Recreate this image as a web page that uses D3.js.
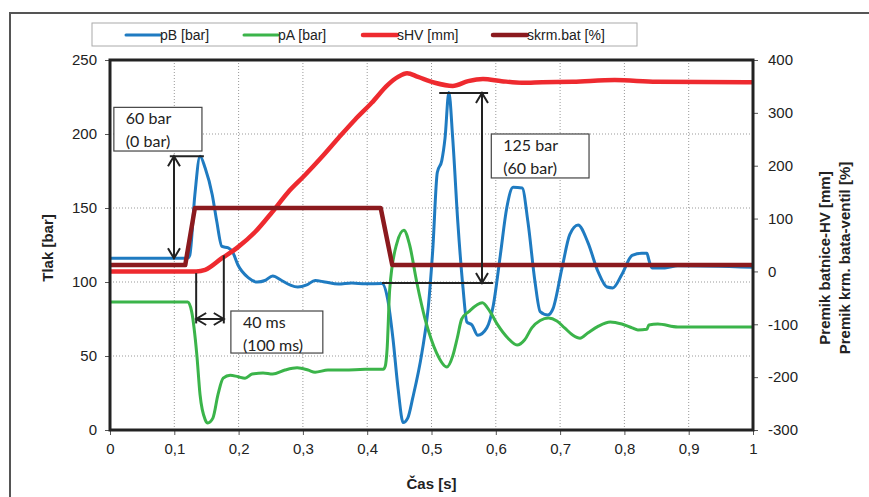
<!DOCTYPE html>
<html>
<head>
<meta charset="utf-8">
<script src="https://cdn.jsdelivr.net/npm/d3@7"></script>
<style>
body { margin: 0; background: #fff; }
text { font-family: "Liberation Sans", Arial, sans-serif; }
</style>
</head>
<body>
<script>
// values; time in s
var pbTime  = [0, 0.120, 0.124, 0.132, 0.140, 0.148, 0.159, 0.166, 0.174, 0.184, 0.191, 0.199, 0.215, 0.229, 0.241, 0.253, 0.267, 0.280, 0.292, 0.306, 0.319, 0.334, 0.355, 0.376, 0.397, 0.423, 0.432, 0.440, 0.448, 0.456, 0.463, 0.471, 0.485, 0.495, 0.502, 0.509, 0.516, 0.521, 0.527, 0.533, 0.541, 0.549, 0.555, 0.563, 0.572, 0.586, 0.596, 0.607, 0.617, 0.627, 0.641, 0.650, 0.661, 0.669, 0.681, 0.689, 0.703, 0.715, 0.728, 0.743, 0.759, 0.773, 0.782, 0.796, 0.812, 0.827, 0.835, 0.838, 0.843, 0.863, 0.883, 1];
var pbValue = [116, 116, 118, 159, 185, 177, 159, 141, 124, 123, 120, 111.5, 103, 100, 101, 104, 101, 98, 96.6, 98, 101, 100, 98.6, 99.3, 98.8, 99, 88, 62, 28, 5, 8, 22, 52, 83, 122, 174, 182, 197, 228, 197, 140, 96, 73, 71, 64, 69, 84, 118, 150, 164, 163.5, 140.5, 100, 80, 77.7, 82, 109.5, 132, 138.5, 127, 107, 96.6, 96, 105, 118, 119.5, 119.5, 115, 109.5, 109.5, 111, 110];

var paTime  = [0, 0.121, 0.127, 0.135, 0.140, 0.148, 0.152, 0.160, 0.168, 0.176, 0.187, 0.199, 0.210, 0.221, 0.238, 0.253, 0.272, 0.291, 0.308, 0.319, 0.339, 0.365, 0.397, 0.425, 0.428, 0.431, 0.435, 0.446, 0.457, 0.466, 0.477, 0.490, 0.499, 0.508, 0.524, 0.533, 0.540, 0.547, 0.558, 0.579, 0.591, 0.603, 0.619, 0.633, 0.645, 0.656, 0.669, 0.682, 0.695, 0.707, 0.720, 0.731, 0.743, 0.759, 0.778, 0.796, 0.812, 0.821, 0.835, 0.838, 0.852, 0.883, 1];
var paValue = [86.5, 86.5, 80, 51, 24, 7, 4.7, 8, 24, 35, 37, 36, 35, 37.8, 38.5, 37.8, 40.5, 42, 40.5, 39, 40.5, 40.5, 41, 41, 43, 55, 95, 126, 135, 125, 100, 75, 62, 52, 42.6, 50, 62, 75, 80, 86, 80, 71, 62, 57.4, 61, 69, 74, 75.6, 73.6, 69, 64, 62, 65.5, 70, 73, 71.6, 69, 67.6, 68, 71, 71.6, 69.6, 69.6];

var shvTime  = [0, 0.134, 0.148, 0.174, 0.199, 0.226, 0.252, 0.277, 0.303, 0.329, 0.355, 0.381, 0.407, 0.432, 0.448, 0.462, 0.479, 0.505, 0.533, 0.557, 0.580, 0.609, 0.641, 0.672, 0.720, 0.785, 0.850, 1];
var shvValue = [0, 0, 3, 25, 46, 75, 112, 150, 182, 216, 252, 287, 319, 353, 368, 375, 368, 357, 351, 360, 364, 360, 357, 358, 359, 362, 359, 358];

var skrmTime  = [0, 0.117, 0.132, 0.421, 0.439, 1];
var skrmValue = [12, 12, 120, 120, 12, 12];

var xTicks = [0, 0.1, 0.2, 0.3, 0.4, 0.5, 0.6, 0.7, 0.8, 0.9, 1];
var leftTicks = [0, 50, 100, 150, 200, 250];
var rightTicks = [-300, -200, -100, 0, 100, 200, 300, 400];

var seriesNames = ["pB [bar]", "pA [bar]", "sHV [mm]", "skrm.bat [%]"];
var seriesColors = ["#1f7bc1", "#3bb44a", "#ee2a2f", "#8b1a1e"];

var w = 869, h = 497;
var pl = 110, pr = 753, pt = 60, pb = 430;

var svg = d3.select("body").append("svg")
	.attr("width", w)
	.attr("height", h);

// outer frame
svg.append("rect")
	.attr("x", 10).attr("y", 13)
	.attr("width", w).attr("height", h)
	.attr("fill", "none")
	.attr("stroke", "#555")
	.attr("stroke-width", 2);

var x = d3.scaleLinear().domain([0, 1]).range([pl, pr]);
var yL = d3.scaleLinear().domain([0, 250]).range([pb, pt]);
var yR = d3.scaleLinear().domain([-300, 400]).range([pb, pt]);

var comma = d3.formatLocale({decimal: ",", thousands: ".", grouping: [3], currency: ["", ""]}).format("~g");

// grid
svg.append("g").selectAll("line")
	.data(xTicks.slice(1, -1))
	.enter().append("line")
	.attr("x1", function(d) { return x(d); })
	.attr("x2", function(d) { return x(d); })
	.attr("y1", pt).attr("y2", pb)
	.attr("stroke", "#999")
	.attr("stroke-dasharray", "1,2");
svg.append("g").selectAll("line")
	.data(leftTicks.slice(1, -1))
	.enter().append("line")
	.attr("x1", pl).attr("x2", pr)
	.attr("y1", function(d) { return yL(d); })
	.attr("y2", function(d) { return yL(d); })
	.attr("stroke", "#999")
	.attr("stroke-dasharray", "1,2");

// axes
svg.append("g")
	.attr("transform", "translate(0," + pb + ")")
	.call(d3.axisBottom(x).tickValues(xTicks).tickFormat(comma).tickSize(5).tickPadding(8));
svg.append("g")
	.attr("transform", "translate(" + pl + ",0)")
	.call(d3.axisLeft(yL).tickValues(leftTicks).tickSize(5).tickPadding(8));
svg.append("g")
	.attr("transform", "translate(" + pr + ",0)")
	.call(d3.axisRight(yR).tickValues(rightTicks).tickFormat(function(d) { return String(d); }).tickSize(5).tickPadding(10));
svg.selectAll(".domain").remove();
svg.selectAll(".tick line").attr("stroke", "#555");
svg.selectAll(".tick text")
	.style("font-size", "15px")
	.style("font-family", "Liberation Sans, Arial, sans-serif")
	.attr("fill", "#222");

// series
var lineL = d3.line()
	.x(function(d) { return x(d[0]); })
	.y(function(d) { return yL(d[1]); })
	.curve(d3.curveMonotoneX);
var lineR = d3.line()
	.x(function(d) { return x(d[0]); })
	.y(function(d) { return yR(d[1]); })
	.curve(d3.curveMonotoneX);
var lineStep = d3.line()
	.x(function(d) { return x(d[0]); })
	.y(function(d) { return yR(d[1]); });

svg.append("path")
	.attr("d", lineL(d3.zip(pbTime, pbValue)))
	.attr("fill", "none").attr("stroke", seriesColors[0])
	.attr("stroke-width", 3).attr("stroke-linejoin", "round");
svg.append("path")
	.attr("d", lineL(d3.zip(paTime, paValue)))
	.attr("fill", "none").attr("stroke", seriesColors[1])
	.attr("stroke-width", 3).attr("stroke-linejoin", "round");
svg.append("path")
	.attr("d", lineR(d3.zip(shvTime, shvValue)))
	.attr("fill", "none").attr("stroke", seriesColors[2])
	.attr("stroke-width", 4.5).attr("stroke-linejoin", "round");
svg.append("path")
	.attr("d", lineStep(d3.zip(skrmTime, skrmValue)))
	.attr("fill", "none").attr("stroke", seriesColors[3])
	.attr("stroke-width", 4.5).attr("stroke-linejoin", "round");

// plot frame
svg.append("rect")
	.attr("x", pl).attr("y", pt)
	.attr("width", pr - pl).attr("height", pb - pt)
	.attr("fill", "none")
	.attr("stroke", "#222")
	.attr("stroke-width", 3);

// annotations (left-axis units)
var annoLines = [
	[0.093, 185, 0.146, 185],
	[0.134, 106, 0.134, 72],
	[0.177, 118, 0.177, 72],
	[0.423, 99.3, 0.596, 99.3],
	[0.512, 227.7, 0.588, 227.7]
];
var annoArrows = [
	[0.0995, 116, 0.0995, 185],
	[0.134, 75, 0.177, 75],
	[0.5785, 99.3, 0.5785, 227.7]
];
var annoBoxes = [
	{t0: 0.006, t1: 0.143, v0: 218, v1: 188.5, text: ["60 bar", "(0 bar)"]},
	{t0: 0.188, t1: 0.331, v0: 80.4, v1: 52, text: ["40 ms", "(100 ms)"]},
	{t0: 0.593, t1: 0.745, v0: 200, v1: 170.3, text: ["125 bar", "(60 bar)"]}
];

var anno = svg.append("g").attr("stroke", "#222").attr("stroke-width", 2).attr("fill", "none");
anno.selectAll("line")
	.data(annoLines)
	.enter().append("line")
	.attr("x1", function(d) { return x(d[0]); })
	.attr("y1", function(d) { return yL(d[1]); })
	.attr("x2", function(d) { return x(d[2]); })
	.attr("y2", function(d) { return yL(d[3]); });

function chevron(px, py, ang) {
	// open arrow head pointing along ang, tip at px,py
	var len = 10, half = 6;
	var ca = Math.cos(ang), sa = Math.sin(ang);
	var bx = px - len * ca, by = py - len * sa;
	return "M" + (bx - half * sa) + "," + (by + half * ca) + "L" + px + "," + py + "L" + (bx + half * sa) + "," + (by - half * ca);
}
annoArrows.forEach(function(a) {
	var x1 = x(a[0]), y1 = yL(a[1]), x2 = x(a[2]), y2 = yL(a[3]);
	var ang = Math.atan2(y2 - y1, x2 - x1);
	anno.append("line").attr("x1", x1).attr("y1", y1).attr("x2", x2).attr("y2", y2);
	anno.append("path").attr("d", chevron(x2, y2, ang));
	anno.append("path").attr("d", chevron(x1, y1, ang + Math.PI));
});

annoBoxes.forEach(function(b) {
	var bx = x(b.t0), by = yL(b.v0);
	svg.append("rect")
		.attr("x", bx).attr("y", by)
		.attr("width", x(b.t1) - bx).attr("height", yL(b.v1) - by)
		.attr("fill", "#fff").attr("stroke", "#444").attr("stroke-width", 1.2);
	svg.append("g").selectAll("text")
		.data(b.text)
		.enter().append("text")
		.attr("x", bx + 12)
		.attr("y", function(d, i) { return by + 17 + i * 23; })
		.style("font-family", "Lato, 'Open Sans', sans-serif")
		.style("font-size", "16px")
		.attr("fill", "#222")
		.text(function(d) { return d; });
});

// legend
var legendX = [126, 244, 363, 493];
var legend = svg.append("g");
legend.append("rect")
	.attr("x", 92).attr("y", 23)
	.attr("width", 545).attr("height", 23)
	.attr("fill", "#fff").attr("stroke", "#aaa");
legend.selectAll("line")
	.data(seriesNames)
	.enter().append("line")
	.attr("x1", function(d, i) { return legendX[i]; })
	.attr("x2", function(d, i) { return legendX[i] + 34; })
	.attr("y1", 35).attr("y2", 35)
	.attr("stroke", function(d, i) { return seriesColors[i]; })
	.attr("stroke-width", function(d, i) { return i < 2 ? 3 : 4.5; })
	.attr("stroke-linecap", "round");
legend.selectAll("text")
	.data(seriesNames)
	.enter().append("text")
	.attr("x", function(d, i) { return legendX[i] + 34; })
	.attr("y", 40)
	.style("font-size", "14px")
	.attr("fill", "#222")
	.text(function(d) { return d; });

// axis titles
svg.append("text")
	.attr("transform", "translate(48,248) rotate(-90)")
	.attr("text-anchor", "middle")
	.attr("dy", "0.35em")
	.style("font-size", "15px").style("font-weight", "bold")
	.attr("fill", "#222")
	.text("Tlak [bar]");
svg.append("text")
	.attr("x", (pl + pr) / 2).attr("y", 489)
	.attr("text-anchor", "middle")
	.style("font-size", "15px").style("font-weight", "bold")
	.attr("fill", "#222")
	.text("Čas [s]");
svg.append("text")
	.attr("transform", "translate(825,258) rotate(-90)")
	.attr("text-anchor", "middle")
	.attr("dy", "0.35em")
	.style("font-size", "15px").style("font-weight", "bold")
	.attr("fill", "#222")
	.text("Premik batnice-HV [mm]");
svg.append("text")
	.attr("transform", "translate(845,258) rotate(-90)")
	.attr("text-anchor", "middle")
	.attr("dy", "0.35em")
	.style("font-size", "15px").style("font-weight", "bold")
	.attr("fill", "#222")
	.text("Premik krm. bata-ventil  [%]");
</script>
</body>
</html>
